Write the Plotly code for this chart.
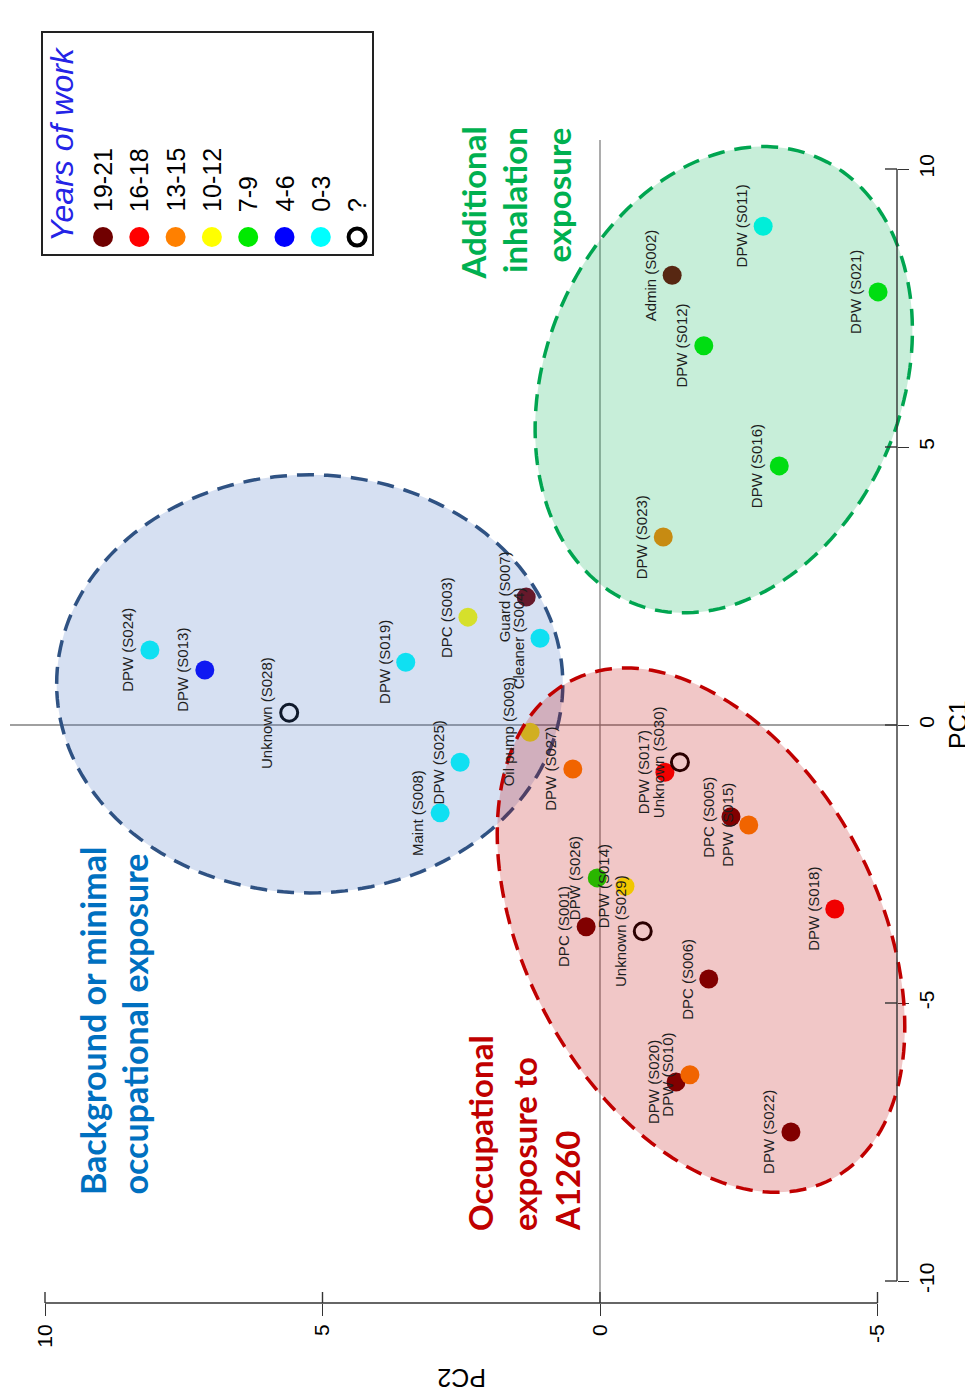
import numpy as np
import plotly.graph_objects as go

# ---------------- data ----------------
sample_labels = [
    "DPW (S024)", "DPW (S013)", "Unknown (S028)", "DPW (S019)", "DPC (S003)",
    "Guard (S007)", "Cleaner (S004)", "Oil pump (S009)", "DPW (S025)", "Maint (S008)",
    "DPW (S027)", "DPW (S017)", "Unknown (S030)", "DPC (S005)", "DPW (S015)",
    "DPW (S026)", "DPW (S014)", "DPC (S001)", "Unknown (S029)", "DPW (S018)",
    "DPC (S006)", "DPW (S020)", "DPW (S010)", "DPW (S022)", "DPW (S011)",
    "Admin (S002)", "DPW (S021)", "DPW (S012)", "DPW (S016)", "DPW (S023)",
]
pc2_values = [
    8.11, 7.12, 5.60, 3.50, 2.38,
    1.33, 1.08, 1.26, 2.52, 2.88,
    0.49, -1.17, -1.44, -2.36, -2.68,
    0.05, -0.45, 0.25, -0.77, -4.23,
    -1.96, -1.37, -1.62, -3.44, -2.94,
    -1.30, -5.01, -1.87, -3.23, -1.14,
]
pc1_values = [
    1.35, 0.99, 0.22, 1.13, 1.94,
    2.30, 1.56, -0.13, -0.67, -1.58,
    -0.79, -0.85, -0.67, -1.65, -1.80,
    -2.75, -2.90, -3.63, -3.71, -3.31,
    -4.57, -6.42, -6.29, -7.32, 8.97,
    8.09, 7.79, 6.82, 4.66, 3.38,
]
years_group = [
    "0-3", "4-6", "?", "0-3", "10-12",
    "19-21", "0-3", "10-12", "0-3", "0-3",
    "13-15", "16-18", "?", "19-21", "13-15",
    "7-9", "10-12", "19-21", "?", "16-18",
    "19-21", "19-21", "13-15", "19-21", "0-3",
    "19-21", "7-9", "7-9", "7-9", "13-15",
]
legend_groups = ["19-21", "16-18", "13-15", "10-12", "7-9", "4-6", "0-3", "?"]
group_colors = ["#700000", "#FF0000", "#FF8000", "#FFFF00", "#00EA00", "#0000FF", "#00FFFF", "#000000"]

pc1_ticks = [-10, -5, 0, 5, 10]
pc2_ticks = [10, 5, 0, -5]

# cluster ellipses: center (PC2, PC1), semi-axes, angle (deg, in data space)
ellipses = [
    dict(cx=5.23, cy=0.74, a=4.56, b=3.76, ang=0,
         fill="rgba(68,114,196,0.22)", line="#2F5283"),
    dict(cx=-1.82, cy=-3.69, a=5.06, b=3.18, ang=62.2,
         fill="rgba(192,0,0,0.22)", line="#C00000"),
    dict(cx=-2.23, cy=6.21, a=4.34, b=3.21, ang=112.5,
         fill="rgba(0,176,80,0.22)", line="#00A550"),
]

# ---------------- layout geometry ----------------
OFF = 8                                  # page body margin of the html
WIN_W, WIN_H = 973, 1397
W, H = WIN_W - OFF, WIN_H - OFF
L, R, T, B = 10, 945, 10, 1303           # plot area in window pixels
AXR = 897                                # pixel position of the PC1 axis
PXU_X, X0PX = 55.5, 600.0                # px per PC2 unit, pixel of PC2 = 0
PXU_Y, Y0PX = 55.6, 725.0                # px per PC1 unit, pixel of PC1 = 0
x_range = [(X0PX - L) / PXU_X, (X0PX - R) / PXU_X]     # PC2 reversed
y_range = [(Y0PX - B) / PXU_Y, (Y0PX - T) / PXU_Y]     # PC1


def pxx(px):
    return (px - L) / (R - L)


def pxy(py):
    return (B - py) / (B - T)


fig = go.Figure()

# points
for g, c in zip(legend_groups, group_colors):
    idx = [i for i, v in enumerate(years_group) if v == g]
    xs = [pc2_values[i] for i in idx]
    ys = [pc1_values[i] for i in idx]
    if g == "?":
        marker = dict(symbol="circle-open", size=17, color="black", line=dict(width=3, color="black"))
    else:
        marker = dict(symbol="circle", size=19, color=c, line=dict(width=0))
    fig.add_trace(go.Scatter(x=xs, y=ys, mode="markers", marker=marker,
                             showlegend=False, hoverinfo="skip"))

shapes = []
# reference lines
shapes.append(dict(type="line", xref="paper", yref="y", x0=0, x1=pxx(AXR), y0=0, y1=0,
                   line=dict(color="#808080", width=1.3), layer="below"))
shapes.append(dict(type="line", xref="x", yref="y", x0=0, x1=0, y0=y_range[0], y1=10.52,
                   line=dict(color="#808080", width=1.3), layer="below"))

# ellipses
t = np.linspace(0, 2 * np.pi, 181)
for e in ellipses:
    ph = np.deg2rad(e["ang"])
    ex = e["cx"] + e["a"] * np.cos(t) * np.cos(ph) - e["b"] * np.sin(t) * np.sin(ph)
    ey = e["cy"] + e["a"] * np.cos(t) * np.sin(ph) + e["b"] * np.sin(t) * np.cos(ph)
    path = "M " + " L ".join(f"{a:.4f},{b:.4f}" for a, b in zip(ex, ey)) + " Z"
    shapes.append(dict(type="path", xref="x", yref="y", path=path, layer="above",
                       fillcolor=e["fill"],
                       line=dict(color=e["line"], width=3.5, dash="17px,10px")))

# axis lines (R-style: span first to last tick)
shapes.append(dict(type="line", xref="x", yref="paper", x0=max(pc2_ticks), x1=min(pc2_ticks),
                   y0=0, y1=0, line=dict(color="#333333", width=1.4)))
shapes.append(dict(type="line", xref="paper", yref="y", x0=pxx(AXR), x1=pxx(AXR),
                   y0=min(pc1_ticks), y1=max(pc1_ticks), line=dict(color="#333333", width=1.4)))
# inner half of crossing ticks
for tv in pc2_ticks:
    shapes.append(dict(type="line", xref="x", yref="paper", x0=tv, x1=tv, y0=0, y1=11 / (B - T),
                       line=dict(color="#333333", width=1.4)))
for tv in pc1_ticks:
    shapes.append(dict(type="line", xref="paper", yref="y", x0=pxx(AXR), x1=pxx(AXR - 12),
                       y0=tv, y1=tv, line=dict(color="#333333", width=1.4)))

# legend box
shapes.append(dict(type="rect", xref="paper", yref="paper", x0=pxx(42), x1=pxx(373),
                   y0=pxy(255), y1=pxy(32), line=dict(color="#222222", width=2),
                   fillcolor="white"))
leg_x = [103 + i * 36.3 for i in range(len(legend_groups))]
for lx, g, c in zip(leg_x, legend_groups, group_colors):
    r = 10
    if g == "?":
        shapes.append(dict(type="circle", xref="paper", yref="paper",
                           x0=pxx(lx - 8.5), x1=pxx(lx + 8.5), y0=pxy(237 + 8.5), y1=pxy(237 - 8.5),
                           line=dict(color="black", width=4), fillcolor="rgba(0,0,0,0)"))
    else:
        shapes.append(dict(type="circle", xref="paper", yref="paper",
                           x0=pxx(lx - r), x1=pxx(lx + r), y0=pxy(237 + r), y1=pxy(237 - r),
                           line=dict(color=c, width=0), fillcolor=c))

annotations = []
# point labels
for lab, x, y in zip(sample_labels, pc2_values, pc1_values):
    annotations.append(dict(x=x, y=y, xref="x", yref="y", text=lab, showarrow=False,
                            textangle=-90, xshift=-22, xanchor="center", yanchor="middle",
                            font=dict(family="Liberation Sans", size=15, color="#1e1e1e")))

# legend texts
annotations.append(dict(x=pxx(62), y=pxy(244), xref="paper", yref="paper",
                        text="<i>Years of work</i>", showarrow=False, textangle=-90,
                        xanchor="center", yanchor="bottom",
                        font=dict(family="Liberation Sans", size=32, color="#2424E6")))
for lx, g in zip(leg_x, legend_groups):
    annotations.append(dict(x=pxx(lx), y=pxy(214), xref="paper", yref="paper", text=g,
                            showarrow=False, textangle=-90, xanchor="center", yanchor="bottom",
                            font=dict(family="Liberation Sans", size=25, color="black")))

# group annotations
group_text = [
    ("Background or minimal", 92, 1197, "bottom", "#0070C0", 34),
    ("occupational exposure", 134, 1197, "bottom", "#0070C0", 34),
    ("Occupational", 480, 1233, "bottom", "#C00000", 33),
    ("exposure to", 524, 1233, "bottom", "#C00000", 33),
    ("A1260", 567, 1233, "bottom", "#C00000", 33),
    ("Additional", 472, 125, "top", "#00B050", 33),
    ("inhalation", 514, 125, "top", "#00B050", 33),
    ("exposure", 558, 126, "top", "#00B050", 33),
]
for txt, px, py, anc, col, sz in group_text:
    annotations.append(dict(x=pxx(px), y=pxy(py), xref="paper", yref="paper",
                            text=f"<b>{txt}</b>", showarrow=False, textangle=-90,
                            xanchor="center", yanchor=anc,
                            font=dict(family="Lato", size=sz, color=col)))

# axis titles
annotations.append(dict(x=pxx(958), y=pxy(725), xref="paper", yref="paper", text="PC1",
                        showarrow=False, textangle=-90, xanchor="center", yanchor="middle",
                        font=dict(family="Liberation Sans", size=25, color="black")))
annotations.append(dict(x=pxx(462), y=pxy(1378), xref="paper", yref="paper", text="PC2",
                        showarrow=False, textangle=180, xanchor="center", yanchor="middle",
                        font=dict(family="Liberation Sans", size=25, color="black")))

fig.update_layout(
    width=W, height=H,
    margin=dict(l=L - OFF, r=WIN_W - R, t=T - OFF, b=WIN_H - B, pad=0),
    paper_bgcolor="white", plot_bgcolor="rgba(0,0,0,0)",
    shapes=shapes, annotations=annotations, showlegend=False,
    xaxis=dict(range=x_range, showgrid=False, zeroline=False, showline=False,
               tickvals=pc2_ticks, ticktext=[str(v) for v in pc2_ticks],
               tickangle=-90, ticks="outside", ticklen=12, tickwidth=1.4, tickcolor="#333333",
               tickfont=dict(family="Liberation Sans", size=21, color="black"),
               ticklabelstandoff=0),
    yaxis=dict(range=y_range, side="right", anchor="free", position=pxx(AXR),
               showgrid=False, zeroline=False, showline=False,
               tickvals=pc1_ticks, ticktext=[str(v) for v in pc1_ticks],
               tickangle=-90, ticks="outside", ticklen=11, tickwidth=1.4, tickcolor="#333333",
               tickfont=dict(family="Liberation Sans", size=21, color="black"),
               ticklabelstandoff=0),
)

fig.write_html("out.html")
